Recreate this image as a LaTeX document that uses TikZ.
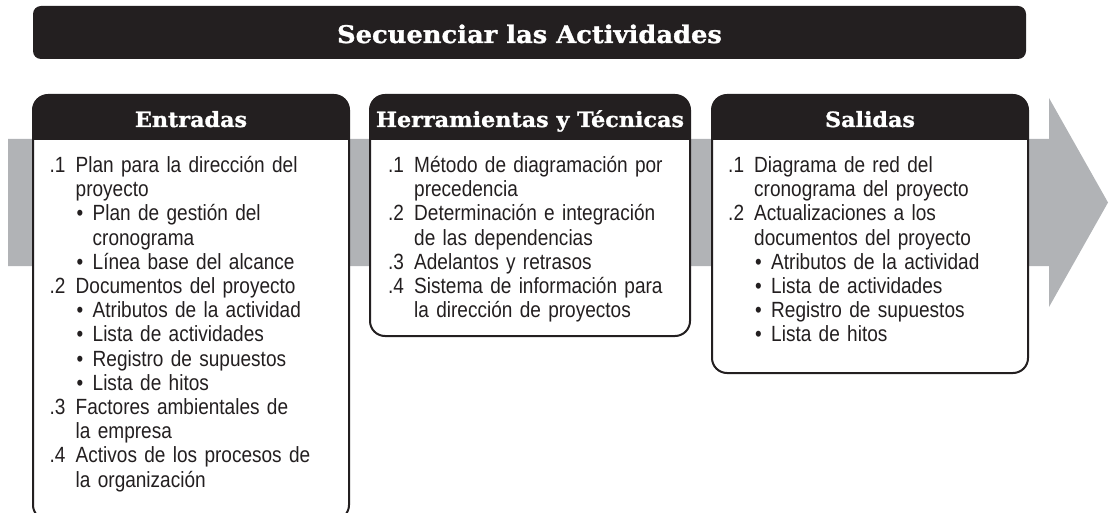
\documentclass[tikz,border=0pt]{standalone}
\usepackage{fontspec}
\setmainfont{Liberation Sans}
\newfontfamily\bodyfont[FakeStretch=0.865]{Liberation Sans}
\newfontfamily\headfont[FakeStretch=1.06,FakeBold=1.2]{DejaVu Serif}
\definecolor{dark}{HTML}{231F20}
\definecolor{band}{HTML}{B1B3B6}
\newcommand\nitem[2]{\makebox[26pt][l]{#1}#2}
\newcommand\ncont[1]{\hspace*{26pt}#1}
\newcommand\bitem[1]{\hspace*{27pt}\makebox[16pt][l]{\textbullet}#1}
\newcommand\bcont[1]{\hspace*{43pt}#1}
\newcommand\procbox[4]{%
  \fill[white, rounded corners=15pt] (#1,#2) rectangle (#3,#4);
  \begin{scope}
    \clip[rounded corners=15pt] (#1,#2) rectangle (#3,#4);
    \fill[dark] (#1,#2) rectangle (#3,140);
  \end{scope}
  \draw[dark, line width=2pt, rounded corners=15pt] (#1,#2) rectangle (#3,#4);
}
\tikzset{
  boxtext/.style={anchor=base west, inner sep=0pt, text width=320pt, align=left,
    font=\bodyfont\fontsize{22}{24.2}\selectfont, text=dark},
  headtext/.style={anchor=base, inner sep=0pt, text=white,
    font=\headfont\bfseries\fontsize{21}{24}\selectfont},
  titletext/.style={anchor=base, inner sep=0pt, text=white,
    font=\headfont\bfseries\fontsize{24.3}{28}\selectfont},
}
\begin{document}
\begin{tikzpicture}[x=1pt,y=-1pt]
\useasboundingbox (0,0) rectangle (1110,513);
\clip (0,0) rectangle (1110,513);
% title bar
\fill[dark, rounded corners=8pt] (33,6) rectangle (1026,59);
\node[titletext] (title) at (529.5,43) {Secuenciar las Actividades};
% grey process arrow
\fill[band] (8,139) -- (1049,139) -- (1049,98) -- (1108,202.5) -- (1049,307) -- (1049,266) -- (8,266) -- cycle;
% boxes
\procbox{33}{95}{349}{520}
\procbox{370}{95}{690}{336}
\procbox{712}{95}{1028}{373}
% headers
\node[headtext] (h1) at (191,127) {Entradas};
\node[headtext] (h2) at (530,127) {Herramientas y Técnicas};
\node[headtext] (h3) at (870,127) {Salidas};
% contents
\node[boxtext] (t1) at (49.5,172.5) {%
\nitem{.1}{Plan para la dirección del}\\
\ncont{proyecto}\\
\bitem{Plan de gestión del}\\
\bcont{cronograma}\\
\bitem{Línea base del alcance}\\
\nitem{.2}{Documentos del proyecto}\\
\bitem{Atributos de la actividad}\\
\bitem{Lista de actividades}\\
\bitem{Registro de supuestos}\\
\bitem{Lista de hitos}\\
\nitem{.3}{Factores ambientales de}\\
\ncont{la empresa}\\
\nitem{.4}{Activos de los procesos de}\\
\ncont{la organización}};
\node[boxtext] (t2) at (388,172.5) {%
\nitem{.1}{Método de diagramación por}\\
\ncont{precedencia}\\
\nitem{.2}{Determinación e integración}\\
\ncont{de las dependencias}\\
\nitem{.3}{Adelantos y retrasos}\\
\nitem{.4}{Sistema de información para}\\
\ncont{la dirección de proyectos}};
\node[boxtext] (t3) at (728,172.5) {%
\nitem{.1}{Diagrama de red del}\\
\ncont{cronograma del proyecto}\\
\nitem{.2}{Actualizaciones a los}\\
\ncont{documentos del proyecto}\\
\bitem{Atributos de la actividad}\\
\bitem{Lista de actividades}\\
\bitem{Registro de supuestos}\\
\bitem{Lista de hitos}};
\end{tikzpicture}
\end{document}
